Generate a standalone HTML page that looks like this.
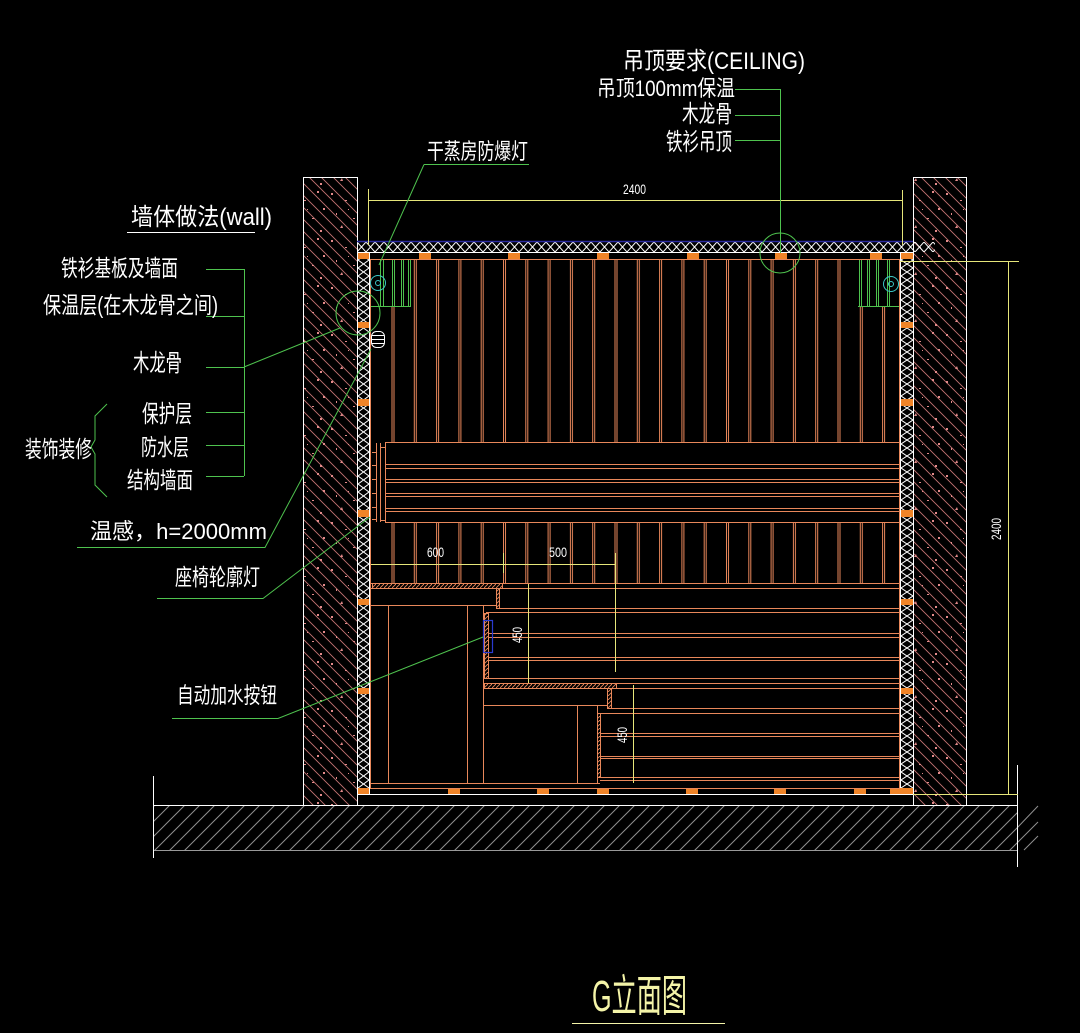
<!DOCTYPE html>
<html><head><meta charset="utf-8"><style>
html,body{margin:0;padding:0;background:#000;}
svg{display:block;}
text{font-family:"Liberation Sans","Noto Sans CJK SC",sans-serif;fill:#fff;}
</style></head><body>
<svg width="1080" height="1033" viewBox="0 0 1080 1033" xmlns="http://www.w3.org/2000/svg">
<defs>
 <pattern id="wh" patternUnits="userSpaceOnUse" width="12" height="12"><path d="M0,0L12,12M-1,11L1,13M11,-1L13,1" stroke="#c27272" stroke-width="0.9"/></pattern>
 <pattern id="dots" patternUnits="userSpaceOnUse" width="41" height="47">
  <g fill="#e38a8a"><rect x="3" y="5" width="2" height="2"/><rect x="17" y="12" width="2" height="1"/><rect x="30" y="3" width="2" height="2"/><rect x="8" y="25" width="1" height="2"/><rect x="25" y="30" width="2" height="1"/><rect x="36" y="20" width="2" height="2"/><path d="M12,40l3,0l-1,-3z"/><rect x="33" y="42" width="2" height="2"/><rect x="20" y="21" width="1" height="1"/></g>
 </pattern>
 <pattern id="fh" patternUnits="userSpaceOnUse" width="15" height="15"><path d="M0,15L15,0M-1,1L1,-1M14,16L16,14" stroke="#8f8f8f" stroke-width="1"/></pattern>
 <pattern id="xv" patternUnits="userSpaceOnUse" x="358" y="252" width="11" height="8"><path d="M0,0L11,8M11,0L0,8" stroke="#fff" stroke-width="1"/></pattern>
 <pattern id="xv2" patternUnits="userSpaceOnUse" x="901" y="252" width="12" height="8"><path d="M0,0L12,8M12,0L0,8" stroke="#fff" stroke-width="1"/></pattern>
 <pattern id="xh" patternUnits="userSpaceOnUse" x="357" y="242" width="9" height="10"><path d="M0,0L9,10M9,0L0,10" stroke="#fff" stroke-width="1"/></pattern>
 <pattern id="oh" patternUnits="userSpaceOnUse" width="4" height="4"><path d="M0,4L4,0" stroke="#e8875a" stroke-width="0.9"/></pattern>
 <pattern id="sl" patternUnits="userSpaceOnUse" x="391" y="0" width="22.3" height="10"><path d="M1,0V10M3,0V10" stroke="#e8875a" stroke-width="1"/></pattern>
</defs>
<rect width="1080" height="1033" fill="#000"/>

<!-- floor -->
<rect x="153" y="805" width="864" height="45" fill="url(#fh)"/>
<path d="M1017,828L1038,806M1017,843L1038,822M1024,850L1038,836" stroke="#8f8f8f"/>
<path d="M153,805.5H1017" stroke="#fff"/>
<path d="M153,850.5H1017" stroke="#999"/>
<path d="M153.5,776V858M1017.5,765V867" stroke="#fff"/>

<!-- walls -->
<rect x="303" y="177" width="55" height="628" fill="url(#wh)"/>
<rect x="303" y="177" width="55" height="628" fill="url(#dots)"/>
<rect x="913" y="177" width="54" height="628" fill="url(#wh)"/>
<rect x="913" y="177" width="54" height="628" fill="url(#dots)" transform="translate(0,0)"/>
<path d="M303.5,805V177.5H357.5V805M913.5,805V177.5H966.5V805" stroke="#fff" fill="none"/>

<!-- insulation strips -->
<rect x="358" y="252" width="11" height="542" fill="url(#xv)"/>
<rect x="901" y="252" width="12" height="542" fill="url(#xv2)"/>
<rect x="357" y="242" width="578" height="10" fill="url(#xh)"/>
<path d="M357,241.5H913" stroke="#2a2aa0" stroke-width="1.5"/>
<path d="M357,252.5H913M369.5,252V794M900.5,252V794M357,794.5H913" stroke="#fff"/>

<!-- orange blocks -->
<g fill="#f08428">
 <rect x="358" y="253" width="11" height="6"/><rect x="358" y="322" width="11" height="6"/><rect x="358" y="399" width="11" height="7"/><rect x="358" y="510" width="11" height="7"/><rect x="358" y="599" width="11" height="6"/><rect x="358" y="688" width="11" height="6"/><rect x="358" y="788" width="11" height="6"/>
 <rect x="901" y="253" width="12" height="6"/><rect x="901" y="322" width="12" height="6"/><rect x="901" y="399" width="12" height="7"/><rect x="901" y="510" width="12" height="7"/><rect x="901" y="599" width="12" height="6"/><rect x="901" y="688" width="12" height="6"/><rect x="901" y="788" width="12" height="6"/>
 <rect x="419" y="253" width="12" height="6"/><rect x="508" y="253" width="12" height="6"/><rect x="597" y="253" width="12" height="6"/><rect x="687" y="253" width="12" height="6"/><rect x="775" y="253" width="12" height="6"/><rect x="870" y="253" width="12" height="6"/>
 <rect x="448" y="788" width="12" height="6"/><rect x="537" y="788" width="12" height="6"/><rect x="597" y="788" width="12" height="6"/><rect x="686" y="788" width="12" height="6"/><rect x="774" y="788" width="12" height="6"/><rect x="854" y="788" width="12" height="6"/><rect x="890" y="788" width="12" height="6"/>
</g>

<!-- slats -->
<rect x="390" y="260" width="496" height="182" fill="url(#sl)"/>
<rect x="390" y="522" width="496" height="61" fill="url(#sl)"/>

<!-- orange panel lines -->
<g stroke="#e8875a" stroke-width="1" fill="none">
 <path d="M370,259.5H900M370.5,259V788M899.5,259V788"/>
 <path d="M385,442.5H900M385,464.5H900M385,468.5H900M385,479.5H900M385,482.5H900M385,493.5H900M385,496.5H900M385,508.5H900M385,511.5H900M385,522.5H900M385.5,442V522"/>
 <path d="M376.5,443V522M380.5,443V522M372,452.5H376M372,465.5H376M372,479.5H376M372,493.5H376M372,507.5H376M372,519.5H376M380,447.5H385M380,520.5H385"/>
 <path d="M370,583.5H900M370,588.5H900M499,608.5H900M486,612.5H900M488,633.5H900M488,637.5H900M488,657.5H900M488,660.5H900M488,678.5H900M484,683.5H900M484,688.5H900M611,708.5H900M600,713.5H900M600,733.5H900M600,736.5H900M600,756.5H900M600,758.5H900M600,777.5H900M600,780.5H900M370,783.5H600M370,788.5H900"/>
 <path d="M370,605.5H497M388.5,605V783M467.5,605V783M483.5,605V783M484,705.5H607M577.5,705V783M597.5,705V783"/>
</g>
<!-- hatched strips -->
<g fill="url(#oh)" stroke="#e8875a" stroke-width="1">
 <rect x="372.5" y="583.5" width="130" height="5"/>
 <rect x="496.5" y="588.5" width="3" height="20"/>
 <rect x="484.5" y="613.5" width="4" height="65"/>
 <rect x="484.5" y="683.5" width="132" height="5"/>
 <rect x="607.5" y="688.5" width="4" height="20"/>
 <rect x="597.5" y="713.5" width="3" height="64"/>
</g>

<!-- blue button -->
<rect x="483.5" y="620.5" width="9" height="32" fill="none" stroke="#2a3ad0" stroke-width="1.2"/>

<!-- lamps -->
<rect x="379" y="260" width="33" height="47" fill="#000"/>
<rect x="857" y="260" width="42" height="47" fill="#000"/>
<g stroke="#4ec24e" stroke-width="1" fill="none">
 <path d="M380.5,260V306M383.5,260V306M392.5,260V306M394.5,260V306M401.5,260V306M403.5,260V306M408.5,260V306M410.5,260V306M371,306.5H411"/>
 <path d="M859.5,260V306M861.5,260V306M867.5,260V306M869.5,260V306M876.5,260V306M878.5,260V306M887.5,260V306M889.5,260V306M858,306.5H899"/>
</g>
<g stroke="#3cc8c8" fill="none">
 <circle cx="378" cy="283" r="7.5"/><circle cx="378" cy="283" r="2.5"/>
 <circle cx="891" cy="284" r="7.5"/><circle cx="891" cy="284" r="2.5"/>
</g>
<!-- sensor icon -->
<rect x="371.5" y="331.5" width="13" height="16" rx="5" fill="#000" stroke="#fff"/>
<path d="M372,335.5H384M372,339.5H384M372,343.5H384" stroke="#fff"/>

<!-- yellow dims -->
<g stroke="#e6e67a" stroke-width="1" fill="none">
 <path d="M368,200.5H902M368.5,189V245M902.5,190V245"/>
 <path d="M900,261.5H1019M913,794.5H1018M1008.5,261V794"/>
 <path d="M371,564.5H615M503.5,553V573M615.5,553V672M528.5,584V683M633.5,685V783"/>
</g>

<!-- green leaders -->
<g stroke="#4ec24e" stroke-width="1" fill="none">
 <path d="M424,164.5H529M424,164.5L379,265"/>
 <path d="M780.5,89V253M735,89.5H780M735,115.5H780M735,140.5H780"/>
 <path d="M244.5,269V476M206,269.5H244M206,316.5H244M206,367.5H244M206,412.5H244M206,445.5H244M206,476.5H244M244,367L340,328"/>
 <path d="M107,404L95,416V440L91,447L95,454V485L107,497"/>
 <path d="M77,547.5H265L371,349"/>
 <path d="M157,598.5H263L370,517"/>
 <path d="M172,718.5H278L483,637"/>
 <circle cx="358" cy="313" r="22"/>
 <circle cx="780" cy="253" r="20"/>
</g>

<!-- white underline -->
<path d="M127,232.5H255" stroke="#fff"/>
<path d="M572,1023.5H725" stroke="#f4f4a8"/>

<!-- labels -->
<text x="131" y="225" font-size="24" textLength="141" lengthAdjust="spacingAndGlyphs">墙体做法(wall)</text>
<text x="61" y="276" font-size="23" textLength="117" lengthAdjust="spacingAndGlyphs">铁衫基板及墙面</text>
<text x="43" y="313" font-size="23" textLength="175" lengthAdjust="spacingAndGlyphs">保温层(在木龙骨之间)</text>
<text x="133" y="371" font-size="24" textLength="49" lengthAdjust="spacingAndGlyphs">木龙骨</text>
<text x="142" y="422" font-size="24" textLength="50" lengthAdjust="spacingAndGlyphs">保护层</text>
<text x="141" y="455" font-size="23" textLength="48" lengthAdjust="spacingAndGlyphs">防水层</text>
<text x="127" y="488" font-size="23" textLength="66" lengthAdjust="spacingAndGlyphs">结构墙面</text>
<text x="25" y="457" font-size="23" textLength="67" lengthAdjust="spacingAndGlyphs">装饰装修</text>
<text x="90" y="539" font-size="22" textLength="177" lengthAdjust="spacingAndGlyphs">温感，h=2000mm</text>
<text x="175" y="585" font-size="23" textLength="85" lengthAdjust="spacingAndGlyphs">座椅轮廓灯</text>
<text x="177" y="703" font-size="22" textLength="100" lengthAdjust="spacingAndGlyphs">自动加水按钮</text>
<text x="427" y="159" font-size="22" textLength="101" lengthAdjust="spacingAndGlyphs">干蒸房防爆灯</text>
<text x="623" y="69" font-size="24" textLength="182" lengthAdjust="spacingAndGlyphs">吊顶要求(CEILING)</text>
<text x="597" y="96" font-size="22" textLength="138" lengthAdjust="spacingAndGlyphs">吊顶100mm保温</text>
<text x="682" y="122" font-size="24" textLength="50" lengthAdjust="spacingAndGlyphs">木龙骨</text>
<text x="666" y="150" font-size="24" textLength="66" lengthAdjust="spacingAndGlyphs">铁衫吊顶</text>
<text x="592" y="1011" font-size="44" textLength="95" lengthAdjust="spacingAndGlyphs" style="fill:#f4f4a8">G立面图</text>

<!-- dimension texts -->
<text x="623" y="194" font-size="14" textLength="23" lengthAdjust="spacingAndGlyphs">2400</text>
<text x="427" y="557" font-size="14" textLength="17" lengthAdjust="spacingAndGlyphs">600</text>
<text x="549" y="557" font-size="14" textLength="18" lengthAdjust="spacingAndGlyphs">500</text>
<text transform="translate(1001,540) rotate(-90)" x="0" y="0" font-size="14" textLength="22" lengthAdjust="spacingAndGlyphs">2400</text>
<text transform="translate(522,643) rotate(-90)" x="0" y="0" font-size="14" textLength="16" lengthAdjust="spacingAndGlyphs">450</text>
<text transform="translate(627,743) rotate(-90)" x="0" y="0" font-size="14" textLength="16" lengthAdjust="spacingAndGlyphs">450</text>
</svg>
</body></html>
